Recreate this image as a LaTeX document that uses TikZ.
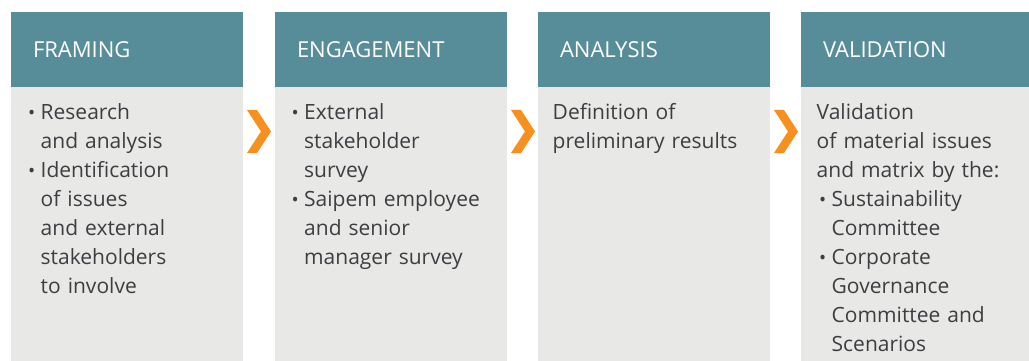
\documentclass[tikz,border=0pt]{standalone}
\usepackage{fontspec}
\setmainfont{Open Sans}
\usepackage{tikz}
\usetikzlibrary{positioning}

\definecolor{headteal}{HTML}{568D99}
\definecolor{bodygrey}{HTML}{E8E8E6}
\definecolor{txtgrey}{HTML}{3D3E42}
\definecolor{chevorange}{HTML}{F7901E}

\newcommand{\bul}{\makebox[12.5pt][l]{\fontsize{19}{19}\selectfont\textbullet}}
\newcommand{\ind}{\hspace*{12.5pt}}
\newcommand{\firstline}{\rule{0pt}{20pt}}

\begin{document}
\begin{tikzpicture}[x=1pt,y=-1pt]
    \tikzstyle{head}=[fill=headteal,text=white,anchor=north west,minimum height=75pt,
        text width=188pt,inner xsep=22pt,inner ysep=0pt,outer sep=0pt,align=left,
        text height=16pt,text depth=0pt,font=\fontsize{22}{26}\selectfont];
    \tikzstyle{body}=[fill=bodygrey,minimum width=232pt,minimum height=274pt,inner sep=0pt,outer sep=0pt];
    \tikzstyle{bodytext}=[anchor=north west,text width=215pt,align=left,inner sep=0pt,
        text=txtgrey,font=\fontsize{21}{29}\selectfont];
    \tikzset{chevron/.pic={\fill[chevorange] (-12,-21.5) -- (-2,-21.5) -- (12,0) -- (-2,21.5) -- (-12,21.5) -- (2,0) -- cycle;}}

    \useasboundingbox (0,0) rectangle (1029,361);
    \clip (0,0) rectangle (1029,361);

    % headers
    \node[head] (h1) at (11,12) {FRAMING};
    \node[head] (h2) [right=32pt of h1] {ENGAGEMENT};
    \node[head] (h3) [right=31pt of h2] {ANALYSIS};
    \node[head] (h4) [right=31pt of h3] {VALIDATION};

    % bodies
    \node[body] (b1) [below=0pt of h1] {};
    \node[body] (b2) [below=0pt of h2] {};
    \node[body] (b3) [below=0pt of h3] {};
    \node[body] (b4) [below=0pt of h4] {};

    \node[bodytext] (t1) [below right=12.5pt and 17pt of b1.north west]
        {\firstline\bul Research\\ \ind and analysis\\ \bul Identification\\ \ind of issues\\
         \ind and external\\ \ind stakeholders\\ \ind to involve};
    \node[bodytext] (t2) [below right=12.5pt and 16.5pt of b2.north west]
        {\firstline\bul External\\ \ind stakeholder\\ \ind survey\\ \bul Saipem employee\\
         \ind and senior\\ \ind manager survey};
    \node[bodytext] (t3) [below right=12.5pt and 14.5pt of b3.north west]
        {\firstline Definition of\\ preliminary results};
    \node[bodytext] (t4) [below right=12.5pt and 15.5pt of b4.north west]
        {\firstline Validation\\ of material issues\\ and matrix by the:\\
         \hspace*{2.5pt}\bul Sustainability\\ \hspace*{15pt}Committee\\
         \hspace*{2.5pt}\bul Corporate\\ \hspace*{15pt}Governance\\
         \hspace*{15pt}Committee and\\ \hspace*{15pt}Scenarios};

    % arrows between the steps
    \coordinate[below right=44.5pt and 16pt of b1.north east] (c1);
    \coordinate[below right=44.5pt and 16pt of b2.north east] (c2);
    \coordinate[below right=44.5pt and 16pt of b3.north east] (c3);
    \pic at (c1) {chevron};
    \pic at (c2) {chevron};
    \pic at (c3) {chevron};

\end{tikzpicture}
\end{document}
